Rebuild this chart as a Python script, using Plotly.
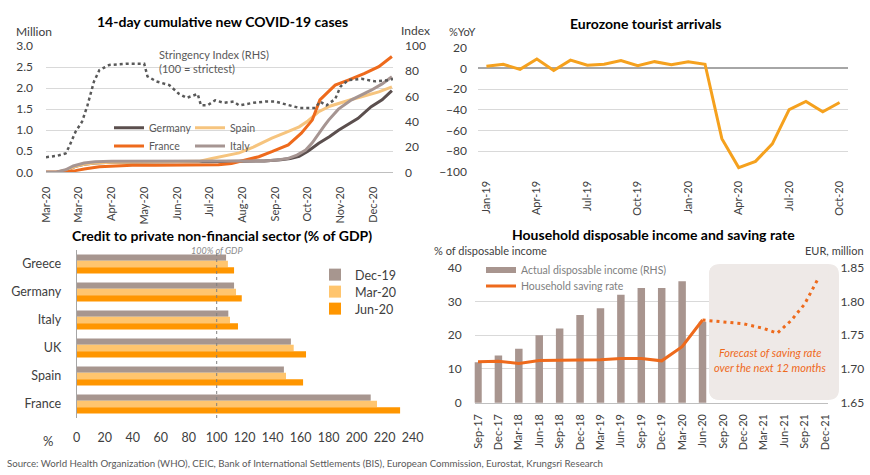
import plotly.graph_objects as go

W, H = 870, 475
FONT = "Lato"
TXT = "#404040"
GRID = "#D9D9D9"

# ---------------- Panel 1: 14-day cumulative new COVID-19 cases ----------------
covid_tick_days = [0, 30, 60, 90, 120, 150, 180, 210, 240, 270, 300]
covid_tick_labels = ["Mar-20", "Mar-20", "Apr-20", "May-20", "Jun-20", "Jul-20",
                     "Aug-20", "Sep-20", "Oct-20", "Nov-20", "Dec-20"]

germany_days = [0, 10, 18, 27, 35, 45, 60, 90, 120, 150, 180, 200, 215, 224, 232, 240,
                250, 260, 268, 278, 286, 298, 308, 317]
germany_cases = [0, 0.01, 0.04, 0.14, 0.19, 0.22, 0.24, 0.25, 0.25, 0.25, 0.26, 0.27,
                 0.30, 0.33, 0.38, 0.50, 0.69, 0.85, 1.00, 1.15, 1.28, 1.56, 1.72, 1.94]

spain_days = [0, 10, 18, 27, 35, 45, 60, 90, 120, 140, 152, 165, 177, 190, 207, 220,
              232, 240, 250, 260, 268, 280, 290, 305, 317]
spain_cases = [0, 0.01, 0.05, 0.14, 0.19, 0.22, 0.24, 0.25, 0.25, 0.26, 0.33, 0.40,
               0.46, 0.60, 0.81, 0.95, 1.08, 1.22, 1.44, 1.57, 1.64, 1.73, 1.80, 1.91, 2.03]

france_days = [0, 10, 18, 27, 35, 49, 60, 79, 100, 120, 140, 158, 170, 177, 195, 207,
               222, 234, 244, 251, 259, 265, 277, 292, 305, 317]
france_cases = [0, 0.0, 0.01, 0.04, 0.08, 0.13, 0.15, 0.17, 0.17, 0.17, 0.17, 0.18,
                0.21, 0.25, 0.37, 0.49, 0.65, 0.93, 1.24, 1.72, 1.91, 2.07, 2.19, 2.35,
                2.51, 2.75]

italy_days = [0, 10, 18, 25, 35, 45, 60, 90, 120, 150, 180, 200, 212, 222, 230, 238,
              244, 250, 255, 259, 264, 268, 280, 290, 298, 308, 317]
italy_cases = [0, 0.01, 0.06, 0.15, 0.22, 0.25, 0.26, 0.26, 0.26, 0.26, 0.26, 0.27,
               0.29, 0.33, 0.41, 0.53, 0.70, 0.93, 1.10, 1.24, 1.40, 1.50, 1.72, 1.85,
               1.95, 2.10, 2.27]

stringency_days = [0, 10, 18, 21, 27, 33, 38, 44, 49, 58, 75, 90, 93, 101, 113, 122,
                   129, 139, 142, 148, 155, 163, 172, 177, 190, 201, 210, 222, 232, 247,
                   251, 257, 265, 270, 277, 289, 302, 314, 318]
stringency_index = [12, 13, 15, 20, 32, 40, 53, 72, 81, 85, 86, 86, 76, 72, 69, 62, 59,
                    62, 53, 53, 57, 55, 56, 53, 55, 56, 56, 53, 51, 51, 56, 53, 58, 68,
                    73, 74, 72, 73, 74]

# ---------------- Panel 2: Eurozone tourist arrivals ----------------
tourist_months = ["Jan-19", "Feb-19", "Mar-19", "Apr-19", "May-19", "Jun-19", "Jul-19",
                  "Aug-19", "Sep-19", "Oct-19", "Nov-19", "Dec-19", "Jan-20", "Feb-20",
                  "Mar-20", "Apr-20", "May-20", "Jun-20", "Jul-20", "Aug-20", "Sep-20",
                  "Oct-20"]
tourist_yoy = [2, 4, -1, 9, -2, 8, 3, 4, 7.5, 2.5, 6.5, 3.5, 6.5, 4, -68, -96, -90,
               -73, -40, -32, -42, -33]
tourist_tick_labels = ["Jan-19", "Apr-19", "Jul-19", "Oct-19", "Jan-20", "Apr-20",
                       "Jul-20", "Oct-20"]

# ---------------- Panel 3: Credit to private non-financial sector ----------------
credit_countries = ["Greece", "Germany", "Italy", "UK", "Spain", "France"]
credit_dec19 = [106.7, 112.4, 108.3, 153.0, 148.0, 210.0]
credit_mar20 = [108.0, 113.8, 109.5, 155.0, 149.5, 214.5]
credit_jun20 = [112.4, 117.9, 115.2, 163.8, 161.7, 231.0]

# ---------------- Panel 4: Household disposable income and saving rate ----------------
hh_tick_labels = ["Sep-17", "Dec-17", "Mar-18", "Jun-18", "Sep-18", "Dec-18", "Mar-19",
                  "Jun-19", "Sep-19", "Dec-19", "Mar-20", "Jun-20", "Sep-20", "Dec-20",
                  "Mar-21", "Jun-21", "Sep-21", "Dec-21"]
income_quarters = ["Sep-17", "Dec-17", "Mar-18", "Jun-18", "Sep-18", "Dec-18", "Mar-19",
                   "Jun-19", "Sep-19", "Dec-19", "Mar-20", "Jun-20"]
income_eur_mn = [1.71, 1.72, 1.73, 1.75, 1.76, 1.78, 1.79, 1.81, 1.82, 1.82, 1.83, 1.77]
saving_rate = [12.1, 12.3, 11.6, 12.5, 12.6, 12.6, 12.7, 13.1, 13.1, 12.4, 16.6, 24.5]
forecast_months = ["Jun-20", "Sep-20", "Dec-20", "Mar-21", "May-21", "Jul-21", "Sep-21",
                   "Nov-21"]
forecast_rate = [24.5, 24.0, 23.4, 22.0, 20.6, 24.3, 29.2, 36.8]

MON = ["Jan", "Feb", "Mar", "Apr", "May", "Jun", "Jul", "Aug", "Sep", "Oct", "Nov", "Dec"]


def month_axis(y0, m0, y1, m1):
    out, y, m = [], y0, m0
    while (y, m) <= (y1, m1):
        out.append(f"{MON[m - 1]}-{y % 100:02d}")
        m += 1
        if m > 12:
            m, y = 1, y + 1
    return out


hh_months = month_axis(2017, 9, 2021, 12)
pos = {m: i for i, m in enumerate(hh_months)}

C_GER, C_ESP, C_FRA, C_ITA = "#5B4F4E", "#F6C47E", "#EE6A1C", "#A69592"
C_STR = "#595959"
C_TOUR = "#F5A11E"
C_DEC, C_MAR, C_JUN = "#A7968F", "#FFC56E", "#FF9600"
C_INC, C_SAV = "#A8958F", "#EE6A1C"


def fx(px):
    return px / W


def fy(py):
    return 1 - py / H


fig = go.Figure()

# Panel 1 traces
for name, d, v, col, lg in [("Germany", germany_days, germany_cases, C_GER, "legend"),
                            ("Spain", spain_days, spain_cases, C_ESP, "legend2"),
                            ("France", france_days, france_cases, C_FRA, "legend3"),
                            ("Italy", italy_days, italy_cases, C_ITA, "legend4")]:
    fig.add_trace(go.Scatter(x=d, y=v, name=name, mode="lines", xaxis="x", yaxis="y",
                             line=dict(color=col, width=3), legend=lg))
fig.add_trace(go.Scatter(x=stringency_days, y=stringency_index, mode="lines",
                         xaxis="x", yaxis="y2", showlegend=False,
                         line=dict(color=C_STR, width=2.5, dash="dot")))

# Panel 2
fig.add_trace(go.Scatter(x=tourist_months, y=tourist_yoy, mode="lines", xaxis="x2",
                         yaxis="y3", showlegend=False,
                         line=dict(color=C_TOUR, width=3)))

# Panel 3
for name, vals, col, lg in [("Dec-19", credit_dec19, C_DEC, "legend5"),
                            ("Mar-20", credit_mar20, C_MAR, "legend6"),
                            ("Jun-20", credit_jun20, C_JUN, "legend7")]:
    fig.add_trace(go.Bar(x=vals, y=credit_countries, orientation="h", name=name,
                         xaxis="x3", yaxis="y4", marker=dict(color=col, line=dict(width=0)),
                         legend=lg))

# Panel 4
fig.add_trace(go.Bar(x=[pos[m] for m in income_quarters], y=income_eur_mn, width=1.1,
                     xaxis="x4", yaxis="y5", showlegend=False,
                     marker=dict(color=C_INC, line=dict(width=0))))
fig.add_trace(go.Scatter(x=[None], y=[None], mode="lines", xaxis="x4", yaxis="y5",
                         name="Actual disposable income (RHS)", legend="legend8",
                         line=dict(color=C_INC, width=6)))
fig.add_trace(go.Scatter(x=[pos[m] for m in income_quarters], y=saving_rate, mode="lines",
                         xaxis="x4", yaxis="y6", name="Household saving rate",
                         legend="legend9", line=dict(color=C_SAV, width=3)))
fig.add_trace(go.Scatter(x=[pos[m] for m in forecast_months], y=forecast_rate,
                         mode="lines", xaxis="x4", yaxis="y6", showlegend=False,
                         line=dict(color=C_SAV, width=3, dash="3px,4px")))

tickf = dict(family=FONT, size=12, color=TXT)
xtickf = dict(family=FONT, size=11, color=TXT)

layout = dict(
    width=W, height=H, margin=dict(l=0, r=0, t=0, b=0, autoexpand=False),
    paper_bgcolor="white", plot_bgcolor="rgba(0,0,0,0)",
    font=dict(family=FONT, color=TXT),
    barmode="group", bargap=0.33, bargroupgap=0,
    # Panel 1
    xaxis=dict(domain=[fx(46), fx(393)], anchor="y", range=[0, 318], tickmode="array",
               tickvals=covid_tick_days, ticktext=covid_tick_labels, tickangle=-90,
               showgrid=False, zeroline=False, showline=True, linecolor="#BFBFBF",
               ticks="", tickfont=xtickf, ticklabelstandoff=9, automargin=False),
    yaxis=dict(domain=[fy(172.3), fy(46)], anchor="x", range=[0, 3], dtick=0.5,
               tickformat=".1f", gridcolor=GRID, zeroline=False, showline=False,
               ticks="", tickfont=tickf, ticklabelstandoff=12, automargin=False),
    yaxis2=dict(overlaying="y", anchor="x", side="right", range=[0, 100], dtick=20,
                showgrid=False, zeroline=False, ticks="", tickfont=tickf,
                ticklabelstandoff=11, automargin=False),
    # Panel 2
    xaxis2=dict(domain=[fx(478), fx(848)], anchor="y3", type="category",
                categoryorder="array", categoryarray=tourist_months, range=[-0.5, 21.5],
                tickmode="array", tickvals=tourist_tick_labels, tickangle=-90,
                showgrid=False, zeroline=False, showline=False, ticks="",
                tickfont=xtickf, ticklabelstandoff=6, automargin=False),
    yaxis3=dict(domain=[fy(171.7), fy(47.7)], anchor="x2", range=[-100, 20], dtick=20,
                gridcolor=GRID, zeroline=True, zerolinecolor="#A6A6A6",
                zerolinewidth=1.5, showline=False, ticks="", tickfont=tickf,
                ticklabelstandoff=10, automargin=False),
    # Panel 3
    xaxis3=dict(domain=[fx(76.7), fx(412.7)], anchor="y4", range=[0, 240], dtick=20,
                showgrid=False, zeroline=False, showline=False, ticks="",
                tickfont=dict(family=FONT, size=12.5, color=TXT), ticklabelstandoff=10,
                automargin=False),
    yaxis4=dict(domain=[fy(418), fy(250)], anchor="x3", type="category",
                categoryorder="array", categoryarray=credit_countries,
                autorange="reversed", showgrid=False, zeroline=False, showline=True,
                linecolor="#A6A6A6", ticks="",
                tickfont=dict(family=FONT, size=12.5, color=TXT), ticklabelstandoff=12,
                automargin=False),
    # Panel 4
    xaxis4=dict(domain=[fx(474.6), fx(828.4)], anchor="y5", range=[-0.5, 51.5],
                tickmode="array", tickvals=[pos[m] for m in hh_tick_labels],
                ticktext=hh_tick_labels, tickangle=-90, showgrid=False, zeroline=False,
                showline=True, linecolor="#BFBFBF", ticks="", tickfont=xtickf,
                ticklabelstandoff=6, automargin=False),
    yaxis5=dict(domain=[fy(402.7), fy(267.7)], anchor="x4", side="right",
                range=[1.65, 1.85], dtick=0.05, tickformat=".2f", gridcolor=GRID,
                zeroline=False, showline=False, ticks="", tickfont=tickf,
                ticklabelstandoff=11, automargin=False),
    yaxis6=dict(overlaying="y5", anchor="x4", side="left", range=[0, 40], dtick=10,
                showgrid=False, zeroline=False, ticks="", tickfont=tickf,
                ticklabelstandoff=12, automargin=False),
)


def leg(xpx, ypx, size=10.5, color="#595959"):
    return dict(x=fx(xpx), y=fy(ypx), xanchor="left", yanchor="middle",
                bgcolor="rgba(0,0,0,0)", borderwidth=0,
                font=dict(family=FONT, size=size, color=color))


layout["legend"] = leg(109, 127.7)
layout["legend2"] = leg(190, 127.7)
layout["legend3"] = leg(109, 146)
layout["legend4"] = leg(190, 146)
layout["legend5"] = leg(315, 275, 12.5, TXT)
layout["legend6"] = leg(315, 292, 12.5, TXT)
layout["legend7"] = leg(315, 309, 12.5, TXT)
layout["legend8"] = leg(481, 270, 10.5, "#7F7F7F")
layout["legend9"] = leg(481, 286, 10.5, "#7F7F7F")

fig.update_layout(**layout)

# Forecast box (rounded) : part outside plot area (below grid) + part inside (above grid)
x0, x1, y0, y1, r = 709, 839, 400, 264, 11


def rounded_path(x0, x1, y0, y1, r):
    X = lambda p: fx(p)
    Y = lambda p: fy(p)
    return (f"M{X(x0 + r)},{Y(y1)} L{X(x1 - r)},{Y(y1)} Q{X(x1)},{Y(y1)} {X(x1)},{Y(y1 + r)} "
            f"L{X(x1)},{Y(y0 - r)} Q{X(x1)},{Y(y0)} {X(x1 - r)},{Y(y0)} "
            f"L{X(x0 + r)},{Y(y0)} Q{X(x0)},{Y(y0)} {X(x0)},{Y(y0 - r)} "
            f"L{X(x0)},{Y(y1 + r)} Q{X(x0)},{Y(y1)} {X(x0 + r)},{Y(y1)} Z")


BOX = "#EEE9E7"
fig.add_shape(type="path", xref="paper", yref="paper", path=rounded_path(x0, x1, y0, y1, r),
              fillcolor=BOX, line=dict(width=0), layer="below")

# inside-plot part in data coordinates so it sits above gridlines
ax_l, ax_r, ay_t, ay_b = 474.6, 828.4, 267.7, 402.7
def dx(p):
    return -0.5 + (p - ax_l) / (ax_r - ax_l) * 52
def dy(p):
    return 1.65 + (ay_b - p) / (ay_b - ay_t) * 0.2
ip = (f"M{dx(x0 + r)},{dy(y1)} L{dx(x1)},{dy(y1)} L{dx(x1)},{dy(y0 - r)} "
      f"Q{dx(x1)},{dy(y0)} {dx(x1 - r)},{dy(y0)} L{dx(x0 + r)},{dy(y0)} "
      f"Q{dx(x0)},{dy(y0)} {dx(x0)},{dy(y0 - r)} L{dx(x0)},{dy(y1 + r)} "
      f"Q{dx(x0)},{dy(y1)} {dx(x0 + r)},{dy(y1)} Z")
fig.add_shape(type="path", xref="x4", yref="y5", path=ip, fillcolor=BOX,
              line=dict(width=0), layer="between")

# 100% of GDP dotted line
fig.add_shape(type="line", xref="x3", yref="paper", x0=100, x1=100, y0=fy(418), y1=fy(253),
              line=dict(color="#808080", width=1, dash="dot"), layer="above")

ann = []


def text(xpx, ypx, s, size=12, color=TXT, xanchor="left", bold=False, italic=False,
         align="left"):
    ann.append(dict(xref="paper", yref="paper", x=fx(xpx), y=fy(ypx), text=s,
                    showarrow=False, xanchor=xanchor, yanchor="middle", align=align,
                    font=dict(family=FONT, size=size, color=color,
                              weight="bold" if bold else "normal",
                              style="italic" if italic else "normal")))


text(222, 22, "14-day cumulative new COVID-19 cases", 14, "#000000", "center", bold=True)
text(645, 24, "Eurozone tourist arrivals", 14, "#000000", "center", bold=True)
text(222, 235, "Credit to private non-financial sector (% of GDP)", 14, "#000000", "center", bold=True)
text(653, 234, "Household disposable income and saving rate", 14, "#000000", "center", bold=True)

text(14, 31.5, "Million", 12, TXT)
text(399, 31, "Index", 12, TXT)
text(447, 32, "%YoY", 11, TXT)
text(432, 251, "% of disposable income", 11, TXT)
text(866, 251, "EUR, million", 11, TXT, "right")
text(48, 441, "%", 13, TXT, "center")
text(157, 54, "Stringency Index (RHS)", 11, "#595959")
text(157, 68, "(100 = strictest)", 11, "#595959")
text(770, 352, "Forecast of saving rate", 11, C_SAV, "center", italic=True)
text(770, 367, "over the next 12 months", 11, C_SAV, "center", italic=True)
text(5, 463, "Source: World Health Organization (WHO), CEIC, Bank of International Settlements (BIS), "
     "European Commission, Eurostat, Krungsri Research", 9.7, "#595959")
ann.append(dict(xref="x3", yref="paper", x=100, y=fy(251), text="100% of GDP",
                showarrow=False, xanchor="center", yanchor="middle",
                font=dict(family=FONT, size=9, color="#8C8C8C", style="italic")))
fig.update_layout(annotations=ann)

fig.write_html("out.html", config={"displayModeBar": False},
               post_script="document.body.style.margin='0';")
